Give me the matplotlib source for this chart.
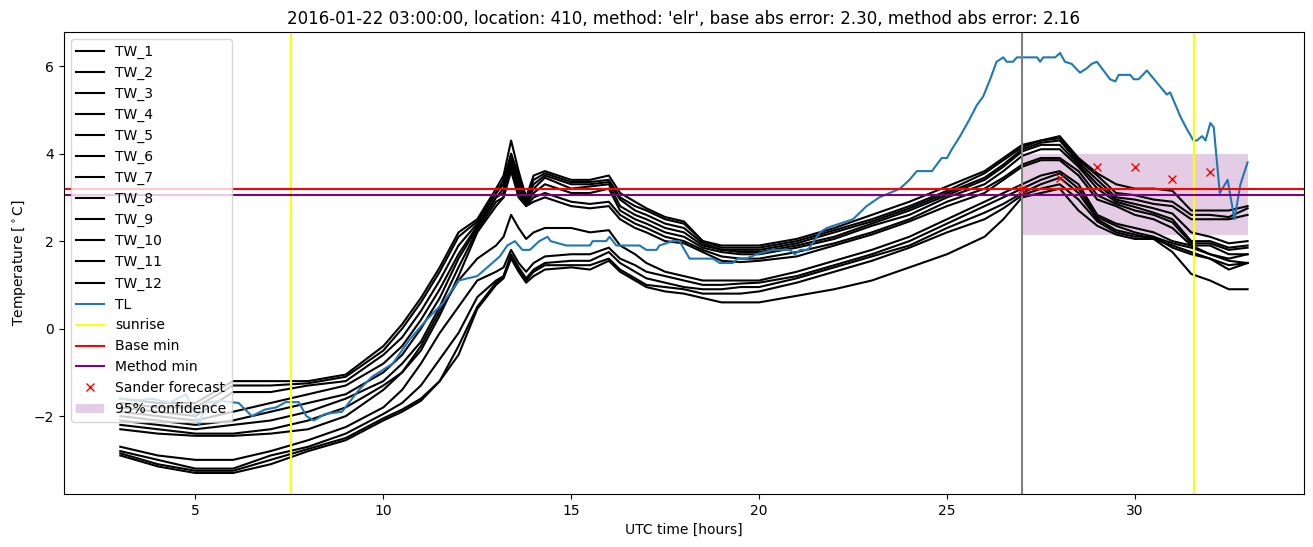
import matplotlib
matplotlib.use("Agg")
import matplotlib.pyplot as plt

tw_hours = [3, 4, 5, 6, 7, 8, 9, 10,
            10.5, 11, 11.5, 12, 12.5,
            13, 13.2, 13.4, 13.6, 13.8,
            14, 14.3,
            15, 15.5, 16, 16.3, 16.7,
            17, 17.5, 18, 18.5,
            19, 19.5, 20,
            21, 22, 23, 24, 25, 26,
            26.5, 27, 27.5, 28, 28.5,
            29, 29.5, 30, 30.5, 31, 31.5, 32, 32.5, 33]

tw_1 = [-1.6, -1.7, -1.7, -1.2, -1.2, -1.2, -1.05, -0.4,
        0.1, 0.7, 1.4, 2.2, 2.5,
        3.2, 3.5, 4.3, 3.6, 3.0,
        3.5, 3.6,
        3.4, 3.4, 3.5, 3.1, 2.9,
        2.75, 2.55, 2.45, 2.0,
        1.9, 1.9, 1.9,
        2.05, 2.3, 2.6, 2.9, 3.25, 3.6,
        3.9, 4.2, 4.3, 4.4, 3.9,
        3.55, 3.3, 3.2, 3.2, 3.15, 2.7, 2.7, 2.7, 2.8]
tw_2 = [-1.7, -1.8, -1.8, -1.3, -1.3, -1.25, -1.1, -0.5,
        0.0, 0.6, 1.3, 2.1, 2.45,
        3.1, 3.4, 4.0, 3.5, 3.0,
        3.4, 3.55,
        3.35, 3.35, 3.4, 3.0, 2.8,
        2.7, 2.5, 2.4, 2.0,
        1.85, 1.85, 1.85,
        2.0, 2.25, 2.5, 2.8, 3.15, 3.55,
        3.85, 4.15, 4.3, 4.35, 3.85,
        3.5, 3.1, 3.05, 2.95, 2.9, 2.6, 2.6, 2.55, 2.75]
tw_3 = [-1.8, -1.9, -2.0, -1.45, -1.45, -1.3, -1.2, -0.6,
        -0.2, 0.4, 1.1, 1.9, 2.4,
        3.1, 3.3, 3.9, 3.4, 2.95,
        3.3, 3.5,
        3.3, 3.3, 3.35, 2.95, 2.7,
        2.6, 2.4, 2.3, 1.95,
        1.8, 1.8, 1.8,
        1.95, 2.2, 2.45, 2.75, 3.1, 3.45,
        3.75, 4.1, 4.25, 4.3, 3.8,
        3.4, 3.0, 2.95, 2.85, 2.8, 2.5, 2.5, 2.5, 2.6]
tw_4 = [-1.9, -2.0, -2.1, -1.9, -1.7, -1.5, -1.3, -0.8,
        -0.4, 0.2, 0.9, 1.7, 2.35,
        3.0, 3.2, 3.85, 3.3, 2.9,
        3.2, 3.45,
        3.2, 3.25, 3.3, 2.8, 2.6,
        2.5, 2.3, 2.2, 1.9,
        1.8, 1.75, 1.75,
        1.9, 2.1, 2.4, 2.7, 3.05, 3.4,
        3.7, 4.05, 4.2, 4.2, 3.75,
        3.3, 2.95, 2.85, 2.75, 2.63, 2.2, 2.1, 1.95, 2.0]
tw_5 = [-2.0, -2.1, -2.2, -2.1, -1.9, -1.7, -1.5, -1.0,
        -0.6, 0.0, 0.7, 1.6, 2.3,
        3.0, 3.1, 3.8, 3.2, 2.85,
        3.1, 3.3,
        3.1, 3.1, 3.2, 2.7, 2.5,
        2.4, 2.2, 2.1, 1.85,
        1.75, 1.7, 1.7,
        1.85, 2.05, 2.35, 2.6, 3.0, 3.3,
        3.6, 3.95, 4.1, 4.1, 3.7,
        3.2, 2.9, 2.78, 2.65, 2.5, 2.0, 2.0, 1.85, 1.9]
tw_6 = [-2.1, -2.2, -2.3, -2.2, -2.1, -1.9, -1.6, -1.2,
        -0.8, -0.3, 0.5, 1.4, 2.25,
        2.9, 3.0, 3.7, 3.1, 2.8,
        3.0, 3.1,
        2.9, 2.85, 2.9, 2.6, 2.4,
        2.3, 2.1, 2.0, 1.8,
        1.65, 1.6, 1.6,
        1.75, 1.95, 2.2, 2.5, 2.9, 3.2,
        3.45, 3.75, 3.9, 3.9, 3.6,
        3.05, 2.85, 2.7, 2.6, 2.43, 1.95, 1.95, 1.8, 1.85]
tw_7 = [-2.2, -2.3, -2.4, -2.4, -2.3, -2.1, -1.8, -1.3,
        -1.0, -0.5, 0.3, 1.2, 2.2,
        2.8, 3.0, 3.6, 3.0, 2.8,
        2.9, 3.0,
        2.8, 2.75, 2.8, 2.5, 2.3,
        2.2, 2.0, 1.95, 1.75,
        1.55, 1.52, 1.55,
        1.65, 1.9, 2.15, 2.45, 2.8, 3.1,
        3.4, 3.7, 3.85, 3.85, 3.5,
        2.95, 2.8, 2.6, 2.5, 2.3, 1.9, 1.9, 1.7, 1.7]
tw_8 = [-2.3, -2.4, -2.45, -2.45, -2.4, -2.3, -2.0, -1.4,
        -1.0, -0.4, 0.4, 1.1, 1.6,
        1.9, 2.1, 2.6, 2.3, 2.05,
        2.2, 2.3,
        2.3, 2.2, 2.25, 1.9, 1.7,
        1.5, 1.3, 1.2, 1.1,
        1.1, 1.1, 1.1,
        1.3, 1.55, 1.8, 2.1, 2.5, 2.9,
        3.1, 3.3, 3.5, 3.6, 3.3,
        2.6, 2.4, 2.3, 2.2, 2.0, 1.9, 1.7, 1.6, 1.7]
tw_9 = [-2.7, -2.9, -3.0, -3.0, -2.8, -2.55, -2.25, -1.8,
        -1.4, -0.8, -0.1, 0.5, 1.1,
        1.3, 1.4, 1.8, 1.5, 1.3,
        1.5, 1.65,
        1.7, 1.7, 1.85, 1.6, 1.45,
        1.3, 1.2, 1.1, 1.0,
        1.0, 1.03, 1.05,
        1.2, 1.45, 1.7, 2.0, 2.4, 2.8,
        3.0, 3.2, 3.4, 3.55, 3.2,
        2.55, 2.35, 2.2, 2.1, 1.95, 1.85, 1.7, 1.55, 1.5]
tw_10 = [-2.8, -3.0, -3.2, -3.2, -2.9, -2.7, -2.4, -1.95,
         -1.7, -1.3, -0.7, -0.1, 0.72,
         1.1, 1.2, 1.7, 1.4, 1.15,
         1.35, 1.5,
         1.55, 1.55, 1.75, 1.5, 1.3,
         1.15, 1.05, 0.95, 0.9,
         0.9, 0.95, 0.95,
         1.15, 1.4, 1.65, 1.9, 2.3, 2.65,
         2.85, 3.1, 3.3, 3.45, 3.1,
         2.5, 2.25, 2.15, 2.05, 1.9, 1.75, 1.6, 1.45, 1.5]
tw_11 = [-2.85, -3.1, -3.25, -3.25, -3.0, -2.75, -2.5, -2.05,
         -1.85, -1.6, -1.2, -0.4, 0.5,
         1.05, 1.2, 1.65, 1.35, 1.1,
         1.3, 1.45,
         1.45, 1.45, 1.6, 1.35, 1.15,
         1.0, 0.95, 0.9, 0.8,
         0.8, 0.8, 0.85,
         1.05, 1.3, 1.55, 1.85, 2.2, 2.5,
         2.75, 3.05, 3.2, 3.3, 2.95,
         2.45, 2.2, 2.1, 2.1, 1.85, 1.7, 1.6, 1.35, 1.5]
tw_12 = [-2.9, -3.15, -3.3, -3.3, -3.1, -2.8, -2.55, -2.1,
         -1.9, -1.65, -1.2, -0.6, 0.45,
         1.0, 1.15, 1.6, 1.3, 1.05,
         1.2, 1.35,
         1.4, 1.35, 1.55, 1.3, 1.1,
         0.95, 0.85, 0.8, 0.7,
         0.6, 0.6, 0.6,
         0.75, 0.9, 1.1, 1.4, 1.7, 2.1,
         2.5, 3.0, 3.1, 3.2, 2.7,
         2.35, 2.15, 2.05, 2.05, 1.75, 1.25, 1.1, 0.9, 0.9]

tw_series = [tw_1, tw_2, tw_3, tw_4, tw_5, tw_6,
             tw_7, tw_8, tw_9, tw_10, tw_11, tw_12]

# TL road temperature
tl_hours = [3.0, 3.4, 3.85, 4.3, 4.75, 5.1, 5.27, 5.65, 6.15, 6.5, 6.85, 7.15,
            7.4, 7.75, 7.95, 8.15, 8.45, 8.9, 9.35, 9.7, 10.25, 10.7, 11.15,
            11.6, 12.0, 12.5, 12.9, 13.1, 13.3, 13.5, 13.7, 13.9, 14.15, 14.37,
            14.45, 14.87, 15.5, 15.57, 15.93, 16.02, 16.2, 16.82, 17.0, 17.27,
            17.35, 17.7, 17.88, 18.15, 18.77, 18.95, 19.3, 19.43, 19.66, 19.93,
            20.37, 20.82, 20.95, 21.1, 21.3, 21.62, 21.8, 22.15, 22.5, 22.86,
            23.03, 23.2, 23.75, 24.0, 24.2, 24.6, 24.86, 25.0, 25.13, 25.35,
            25.61, 25.79, 25.96, 26.15, 26.32, 26.5, 26.59, 26.76, 26.86, 27.4,
            27.48, 27.56, 27.88, 28.01, 28.14, 28.32, 28.54, 28.72, 28.85, 28.99,
            29.34, 29.48, 29.57, 29.88, 29.97, 30.1, 30.32, 30.85, 30.94, 31.21,
            31.39, 31.56, 31.65, 31.79, 31.88, 32.01, 32.1, 32.26, 32.47, 32.65,
            32.81, 33.0]
tl_values = [-1.6, -1.65, -1.6, -1.7, -1.5, -2.2, -1.7, -1.65, -1.7, -2.0, -1.85,
             -1.8, -1.68, -1.68, -2.0, -2.1, -1.95, -1.9, -1.4, -1.1, -0.8, -0.25,
             0.2, 0.6, 1.1, 1.2, 1.5, 1.65, 1.9, 2.0, 1.8, 1.8, 2.0, 2.1,
             2.0, 1.9, 1.9, 2.0, 2.0, 2.1, 1.9, 1.9, 1.8, 1.8,
             1.9, 2.0, 2.0, 1.6, 1.6, 1.5, 1.5, 1.6, 1.6, 1.7,
             1.8, 1.8, 1.7, 1.8, 1.8, 2.2, 2.3, 2.4, 2.5, 2.8,
             2.9, 3.0, 3.2, 3.4, 3.6, 3.6, 3.9, 3.9, 4.1, 4.4,
             4.8, 5.1, 5.3, 5.7, 6.1, 6.2, 6.1, 6.1, 6.2, 6.2,
             6.1, 6.2, 6.2, 6.3, 6.1, 6.05, 5.85, 5.95, 6.05, 6.1,
             5.7, 5.65, 5.8, 5.8, 5.7, 5.7, 5.9, 5.35, 5.4, 4.85,
             4.55, 4.3, 4.3, 4.4, 4.3, 4.7, 4.6, 3.1, 3.4, 2.5,
             3.3, 3.8]

sunrise_hours = [7.55, 31.58]
forecast_start = 27
base_min = 3.2
method_min = 3.05

sander_hours = [27, 28, 29, 30, 31, 32]
sander_values = [3.2, 3.45, 3.7, 3.7, 3.42, 3.58]
conf_hours = [27, 33]
conf_lower = [2.14, 2.14]
conf_upper = [3.98, 3.98]

fig, ax = plt.subplots(figsize=(13.13, 5.47), dpi=100)
fig.subplots_adjust(left=0.0487, right=0.9931, top=0.9415, bottom=0.0969)

for i, vals in enumerate(tw_series):
    ax.plot(tw_hours, vals, color="black", label=f"TW_{i + 1}")
ax.plot(tl_hours, tl_values, color="tab:blue", label="TL")

ax.axvline(sunrise_hours[0], color="yellow", label="sunrise")
ax.axvline(sunrise_hours[1], color="yellow")
ax.axvline(forecast_start, color="grey")
ax.axhline(base_min, color="red", label="Base min")
ax.axhline(method_min, color="purple", label="Method min")
ax.plot(sander_hours, sander_values, "rx", label="Sander forecast")
ax.fill_between(conf_hours, conf_lower, conf_upper, color="purple",
                alpha=0.2, linewidth=0, label="95% confidence")

ax.set_xlabel("UTC time [hours]")
ax.set_ylabel(r"Temperature [$^\circ$C]")
ax.set_title("2016-01-22 03:00:00, location: 410, method: 'elr', "
             "base abs error: 2.30, method abs error: 2.16")
ax.legend(loc="upper left")

fig.savefig("out.png", dpi=100)
